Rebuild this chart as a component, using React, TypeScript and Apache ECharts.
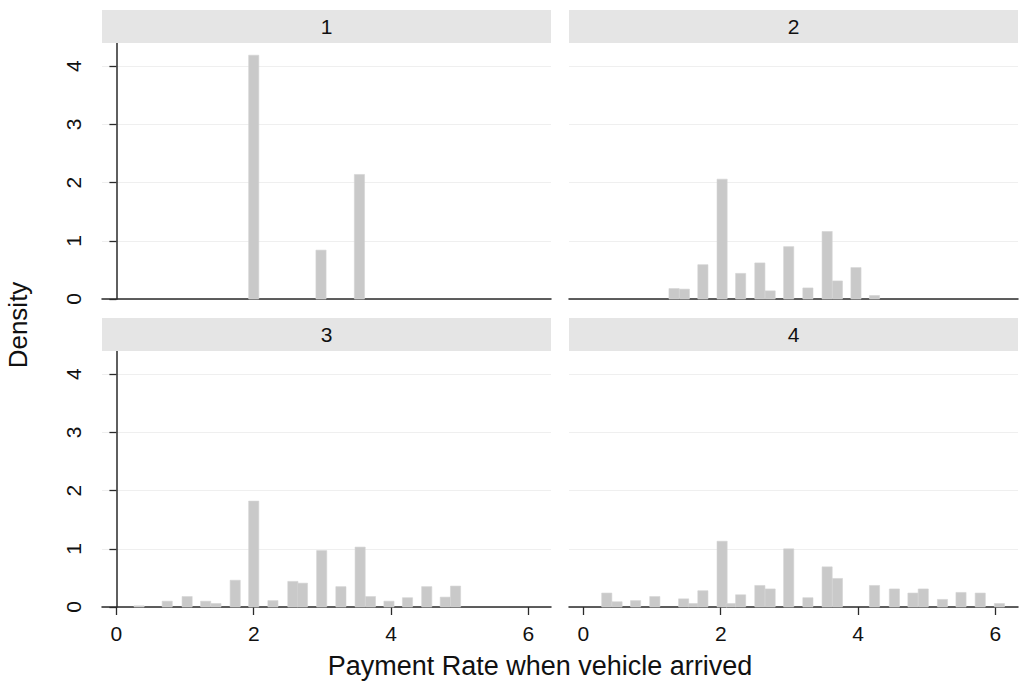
import React, { useEffect, useRef } from 'react';
import * as echarts from 'echarts';

const panelNames = ['1', '2', '3', '4'];

const rate1 = [2.0, 2.98, 3.54];
const dens1 = [4.19, 0.84, 2.14];

const rate2 = [1.32, 1.47, 1.74, 2.02, 2.29, 2.57, 2.72, 2.99, 3.27, 3.55, 3.7, 3.97, 4.24];
const dens2 = [0.18, 0.17, 0.59, 2.06, 0.44, 0.62, 0.14, 0.9, 0.19, 1.16, 0.31, 0.54, 0.06];

const rate3 = [0.33, 0.74, 1.03, 1.3, 1.45, 1.73, 2.0, 2.28, 2.57, 2.71, 2.99, 3.27, 3.55, 3.7, 3.97, 4.24, 4.52, 4.79, 4.94];
const dens3 = [0.02, 0.1, 0.18, 0.1, 0.06, 0.46, 1.82, 0.11, 0.44, 0.41, 0.97, 0.35, 1.03, 0.18, 0.1, 0.16, 0.35, 0.17, 0.36];

const rate4 = [0.34, 0.49, 0.76, 1.04, 1.46, 1.6, 1.74, 2.02, 2.15, 2.29, 2.57, 2.72, 2.99, 3.27, 3.55, 3.7, 4.24, 4.53, 4.8, 4.95, 5.23, 5.5, 5.78, 6.06];
const dens4 = [0.24, 0.09, 0.11, 0.18, 0.14, 0.06, 0.28, 1.13, 0.06, 0.21, 0.37, 0.31, 1.0, 0.16, 0.69, 0.49, 0.37, 0.31, 0.24, 0.31, 0.13, 0.25, 0.24, 0.06];

const xTicks = [0, 2, 4, 6];
const yTicks = [0, 1, 2, 3, 4];
const xTitle = 'Payment Rate when vehicle arrived';
const yTitle = 'Density';

const BIN = 0.148;
const FONT = '"Liberation Sans", Arial, Helvetica, sans-serif';

const panels = [
  { x: rate1, y: dens1 },
  { x: rate2, y: dens2 },
  { x: rate3, y: dens3 },
  { x: rate4, y: dens4 },
];

const GRID_LEFT = [102, 569];
const GRID_TOP = [43, 351];
const GRID_W = 449;
const GRID_H = 256;
const HEADER_H = 33;

export default function App() {
  const ref = useRef<HTMLDivElement>(null);
  useEffect(() => {
    if (!ref.current) return;
    const chart = echarts.init(ref.current, null, { renderer: 'svg' });
    const grids: any[] = [];
    const xAxes: any[] = [];
    const yAxes: any[] = [];
    const series: any[] = [];
    const graphics: any[] = [];
    panels.forEach((p, i) => {
      const col = i % 2;
      const row = Math.floor(i / 2);
      const left = GRID_LEFT[col];
      const top = GRID_TOP[row];
      grids.push({ left, top, width: GRID_W, height: GRID_H, containLabel: false });
      xAxes.push({
        type: 'value',
        gridIndex: i,
        min: -0.21,
        max: 6.33,
        axisLine: { show: true, onZero: false, lineStyle: { color: '#2a2a2a', width: 1.5 } },
        axisTick: { show: row === 1, length: 8, customValues: xTicks, lineStyle: { color: '#2a2a2a', width: 1.3 } },
        axisLabel: { show: row === 1, customValues: xTicks, fontSize: 21, color: '#111', margin: 16, fontFamily: FONT },
        splitLine: { show: false },
      });
      yAxes.push({
        type: 'value',
        gridIndex: i,
        min: 0,
        max: 4.4,
        axisLine: { show: col === 0, lineStyle: { color: '#2a2a2a', width: 1.5 } },
        axisTick: { show: col === 0, length: 7, customValues: yTicks, lineStyle: { color: '#2a2a2a', width: 1.3 } },
        axisLabel: { show: col === 0, customValues: yTicks, rotate: 90, fontSize: 21, color: '#111', margin: 18, fontFamily: FONT },
        splitLine: { show: true, lineStyle: { color: '#efefef', width: 1.2 } },
      });
      series.push({
        type: 'custom',
        xAxisIndex: i,
        yAxisIndex: i,
        encode: { x: 0, y: 1 },
        data: p.x.map((v, k) => [v, p.y[k]]),
        renderItem: (params: any, api: any) => {
          const xv = api.value(0);
          const yv = api.value(1);
          const a = api.coord([xv - BIN / 2, yv]);
          const b = api.coord([xv + BIN / 2, 0]);
          return {
            type: 'rect',
            shape: { x: a[0], y: a[1], width: b[0] - a[0], height: b[1] - a[1] },
            style: { fill: '#c9c9c9', stroke: '#d4d4d4', lineWidth: 0.6 },
          };
        },
      });
      graphics.push({
        type: 'rect',
        left,
        top: top - HEADER_H,
        shape: { width: GRID_W, height: HEADER_H },
        style: { fill: '#e5e5e5' },
        z: 10,
      });
      graphics.push({
        type: 'text',
        x: left + GRID_W / 2,
        y: top - HEADER_H / 2,
        style: {
          text: panelNames[i],
          fontSize: 21,
          fontFamily: FONT,
          fill: '#111',
          textAlign: 'center',
          textVerticalAlign: 'middle',
        },
        z: 11,
      });
    });
    graphics.push({
      type: 'text',
      x: 540,
      y: 666,
      style: {
        text: xTitle,
        fontSize: 27,
        fontFamily: FONT,
        fill: '#111',
        textAlign: 'center',
        textVerticalAlign: 'middle',
      },
    });
    graphics.push({
      type: 'text',
      x: 18,
      y: 325,
      rotation: Math.PI / 2,
      style: {
        text: yTitle,
        fontSize: 26,
        fontFamily: FONT,
        fill: '#111',
        textAlign: 'center',
        textVerticalAlign: 'middle',
      },
    });
    chart.setOption({
      animation: false,
      backgroundColor: '#ffffff',
      grid: grids,
      xAxis: xAxes,
      yAxis: yAxes,
      series,
      graphic: graphics,
    });
    return () => chart.dispose();
  }, []);
  return (
    <div
      ref={ref}
      style={{ position: 'fixed', left: 0, top: 0, width: 1021, height: 684, background: '#fff' }}
    />
  );
}
